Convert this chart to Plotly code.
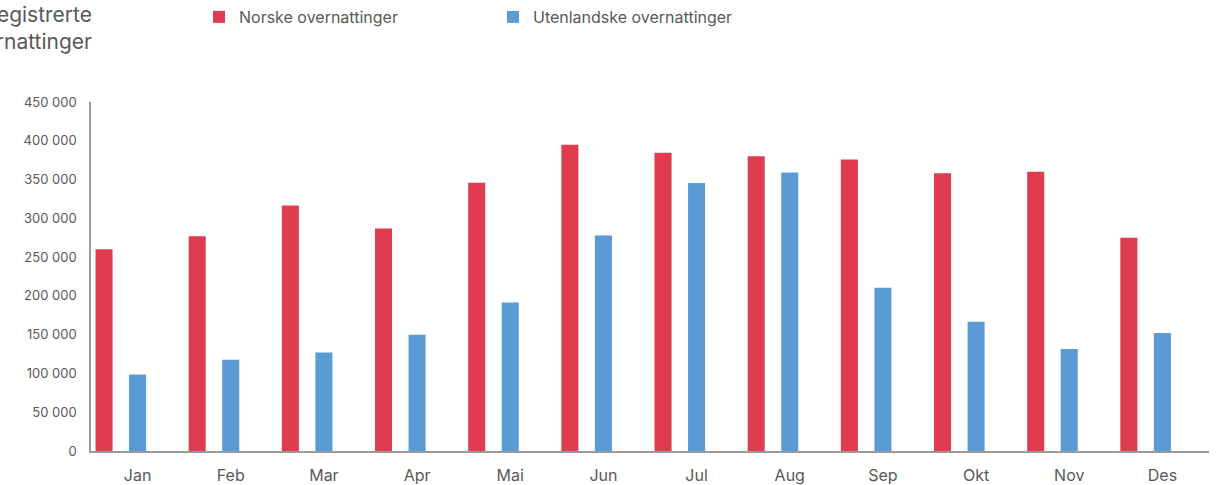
import plotly.graph_objects as go

months = ["Jan", "Feb", "Mar", "Apr", "Mai", "Jun", "Jul", "Aug", "Sep", "Okt", "Nov", "Des"]
norske = [260000, 277000, 316500, 287000, 346000, 395000, 384500, 380000, 376000, 358000, 360000, 275000]
utenlandske = [98500, 117500, 127000, 150000, 191500, 278000, 345500, 359000, 210500, 166500, 131500, 152000]

RED = "#E03C50"
BLUE = "#5B9BD5"
TXT = "#595959"
FONT = "Inter"

bw = 0.183
fig = go.Figure()
fig.add_trace(go.Bar(x=months, y=norske, name="Norske overnattinger",
                     marker=dict(color=RED, line=dict(width=0)),
                     width=bw, offset=-0.36 - bw / 2))
fig.add_trace(go.Bar(x=months, y=utenlandske, name="Utenlandske overnattinger",
                     marker=dict(color=BLUE, line=dict(width=0)),
                     width=bw, offset=-bw / 2))

fig.update_layout(
    width=1217, height=485,
    margin=dict(l=91, r=8, t=102, b=34, autoexpand=False),
    paper_bgcolor="white", plot_bgcolor="white",
    barmode="overlay",
    separators=", ",
    font=dict(family=FONT, color=TXT, size=14),
    showlegend=True,
    legend=dict(orientation="h", xref="container", yref="container",
                x=0.1635, y=1.0, xanchor="left", yanchor="top",
                font=dict(size=16, color=TXT, family=FONT),
                entrywidth=249, entrywidthmode="pixels",
                bgcolor="rgba(0,0,0,0)", traceorder="normal"),
    xaxis=dict(type="category", showline=True, linecolor="#9a9a9a", linewidth=1.5,
               ticks="", showgrid=False, tickfont=dict(size=16, color=TXT),
               ticklabelstandoff=9, range=[-0.5, 11.5]),
    yaxis=dict(range=[0, 450000], tickvals=list(range(0, 450001, 50000)),
               tickformat=",d", showline=True, linecolor="#9a9a9a", linewidth=1.5,
               ticks="", showgrid=False, zeroline=False,
               tickfont=dict(size=13, color=TXT), ticklabelstandoff=10),
    annotations=[dict(text="Registrerte<br>overnattinger", xref="paper", yref="paper",
                      x=0, y=1 + 102 / 349, xanchor="right", yanchor="top",
                      xshift=3, align="right", showarrow=False,
                      font=dict(size=21, color=TXT, family=FONT))],
)

fig.write_html("out.html", config={"displayModeBar": False},
               post_script="document.body.style.margin='0';document.body.style.overflow='hidden';")
